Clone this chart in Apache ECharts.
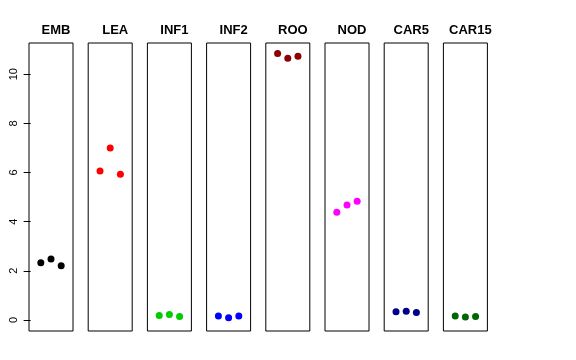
<!DOCTYPE html>
<html><head><meta charset="utf-8">
<script src="https://cdn.jsdelivr.net/npm/echarts@6/dist/echarts.min.js"></script>
<style>html,body{margin:0;padding:0;background:#fff}#c{width:576px;height:360px}</style>
</head><body><div id="c"></div>
<script>
const categories = ["EMB","LEA","INF1","INF2","ROO","NOD","CAR5","CAR15"];
const colors = ["#000000","#FF0000","#00CD00","#0000FF","#8B0000","#FF00FF","#00008B","#006400"];
const xPositions = [1,2,3];
const EMB = [2.33,2.48,2.21];
const LEA = [6.06,7.00,5.93];
const INF1 = [0.18,0.22,0.14];
const INF2 = [0.16,0.09,0.16];
const ROO = [10.84,10.65,10.73];
const NOD = [4.38,4.68,4.83];
const CAR5 = [0.33,0.35,0.30];
const CAR15 = [0.16,0.12,0.14];
const seriesValues = [EMB,LEA,INF1,INF2,ROO,NOD,CAR5,CAR15];
const yTicks = [0,2,4,6,8,10];

const font = '"Liberation Sans", Arial, sans-serif';
const grids=[], xAxes=[], yAxes=[], series=[], titles=[];
categories.forEach((name,i)=>{
  const left = 29 + 59.2*i;
  grids.push({left:left, top:43, width:44, height:288, show:true, borderColor:'#000', borderWidth:1, backgroundColor:'transparent'});
  xAxes.push({type:'value', gridIndex:i, min:-0.16, max:4.16, show:false});
  yAxes.push({type:'value', gridIndex:i, min:-0.45, max:11.27,
    axisLine:{show:false}, splitLine:{show:false},
    axisTick:{show:i===0, length:7, customValues:yTicks, lineStyle:{color:'#000'}},
    axisLabel:{show:i===0, customValues:yTicks, rotate:90, margin:10, color:'#000', fontSize:11, fontFamily:font}
  });
  titles.push({text:name, left:left+22, top:19, textAlign:'center',
    textStyle:{fontFamily:font, fontWeight:'bold', fontSize:13, color:'#000'}});
  series.push({type:'scatter', xAxisIndex:i, yAxisIndex:i, symbolSize:7,
    itemStyle:{color:colors[i], opacity:1}, silent:true,
    data: seriesValues[i].map((v,j)=>[xPositions[j], v])});
});
const chart = echarts.init(document.getElementById('c'), null, {renderer:'canvas'});
chart.setOption({animation:false, title:titles, grid:grids, xAxis:xAxes, yAxis:yAxes, series:series});
</script></body></html>
